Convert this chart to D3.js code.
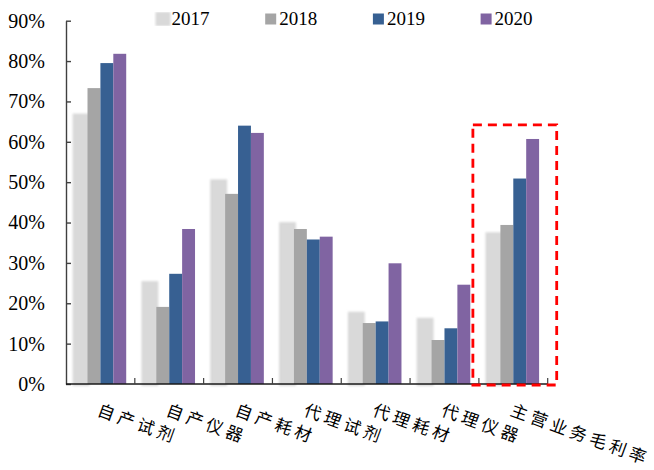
<!DOCTYPE html>
<html>
<head>
<meta charset="utf-8">
<script src="https://cdn.jsdelivr.net/npm/d3@7/dist/d3.min.js"></script>
<style>
  html, body { margin: 0; padding: 0; background: #fff; }
  svg { display: block; }
</style>
</head>
<body>
<svg id="chart" width="654" height="470"></svg>
<script>
// Gross margin by business line, 2017–2020 (%)
const categories = ['自产试剂', '自产仪器', '自产耗材', '代理试剂', '代理耗材', '代理仪器', '主营业务毛利率'];
const years = ['2017', '2018', '2019', '2020'];
const values2017 = [66.5, 25.0, 50.2, 39.6, 17.4, 15.9, 37.1];
const values2018 = [73.3, 19.1, 47.1, 38.4, 15.1, 10.9, 39.4];
const values2019 = [79.5, 27.3, 64.0, 35.8, 15.5, 13.8, 50.9];
const values2020 = [81.8, 38.4, 62.2, 36.5, 29.9, 24.6, 60.7];
const yTicks = [0, 10, 20, 30, 40, 50, 60, 70, 80, 90];
const highlighted = '主营业务毛利率';

const seriesValues = { '2017': values2017, '2018': values2018, '2019': values2019, '2020': values2020 };
const colors = { '2017': '#D9D9D9', '2018': '#A5A5A5', '2019': '#376092', '2020': '#8064A2' };

const svg = d3.select('#chart');
const plot = { left: 66, right: 547.7, top: 20.7, bottom: 384 };

// Soft glow used by the lightest series
const defs = svg.append('defs');
const glow = defs.append('filter').attr('id', 'glow')
  .attr('x', '-30%').attr('y', '-10%').attr('width', '160%').attr('height', '120%');
glow.append('feMorphology').attr('in', 'SourceGraphic').attr('operator', 'dilate').attr('radius', 1.6).attr('result', 'thick');
glow.append('feGaussianBlur').attr('in', 'thick').attr('stdDeviation', 0.9).attr('result', 'soft');
const merge = glow.append('feMerge');
merge.append('feMergeNode').attr('in', 'soft');
merge.append('feMergeNode').attr('in', 'SourceGraphic');

const x = d3.scaleBand().domain(categories).range([plot.left, plot.right])
  .paddingInner(0.25).paddingOuter(0.125);
const xSeries = d3.scaleBand().domain(years).range([0, x.bandwidth()]);
const y = d3.scaleLinear().domain([0, 90]).range([plot.bottom, plot.top]);

// Bars
years.forEach(yr => {
  svg.append('g')
    .attr('filter', yr === '2017' ? 'url(#glow)' : null)
    .selectAll('rect')
    .data(categories.map((c, i) => ({ c, v: seriesValues[yr][i] })))
    .join('rect')
    .attr('x', d => x(d.c) + xSeries(yr))
    .attr('y', d => y(d.v))
    .attr('width', xSeries.bandwidth())
    .attr('height', d => y(0) - y(d.v))
    .attr('fill', colors[yr]);
});

// Y axis
const yAxis = d3.axisLeft(y).tickValues(yTicks).tickFormat(d => d + '%')
  .tickSizeInner(-5).tickSizeOuter(0).tickPadding(21);
const gy = svg.append('g').attr('transform', `translate(${plot.left},0)`).call(yAxis);
gy.select('.domain').attr('stroke', '#404040').attr('stroke-width', 1.4);
gy.selectAll('.tick line').attr('stroke', '#404040').attr('stroke-width', 1.4);
gy.selectAll('.tick text')
  .attr('font-family', '"Liberation Serif", "Times New Roman", serif')
  .attr('font-size', 20).attr('fill', '#000');

// X axis line with category separators pointing up
svg.append('line')
  .attr('x1', plot.left).attr('x2', plot.right)
  .attr('y1', y(0)).attr('y2', y(0))
  .attr('stroke', '#1a1a1a').attr('stroke-width', 1.4);
const step = x.step();
const boundaries = categories.map(c => x(c) - x.paddingOuter() * step).concat([plot.right]);
svg.append('g').selectAll('line').data(boundaries.slice(1)).join('line')
  .attr('x1', d => d).attr('x2', d => d)
  .attr('y1', y(0)).attr('y2', y(0) - 6)
  .attr('stroke', '#404040').attr('stroke-width', 1.2);

// Rotated category labels
svg.append('g').selectAll('text').data(categories).join('text')
  .attr('transform', c => `translate(${x(c) - x.paddingOuter() * step + step / 2 + 1},401) rotate(20)`)
  .attr('dy', '0.88em')
  .attr('font-family', '"Noto Sans CJK SC", sans-serif')
  .attr('font-size', 17)
  .attr('letter-spacing', 4)
  .attr('fill', '#000')
  .text(c => c);

// Dashed highlight around the overall margin group
const hx0 = x(highlighted) - x.paddingOuter() * step;
svg.append('rect')
  .attr('x', hx0 - 6).attr('y', y(64.2))
  .attr('width', step + 15).attr('height', y(0) - y(64.2) + 1)
  .attr('fill', 'none')
  .attr('stroke', '#FF0000').attr('stroke-width', 2.8)
  .attr('stroke-dasharray', '9,6');

// Legend
const legend = svg.append('g').selectAll('g').data(years).join('g')
  .attr('transform', (d, i) => `translate(${157.5 + i * 107.7},13.5)`);
legend.append('rect')
  .attr('width', 11).attr('height', 11)
  .attr('fill', d => colors[d])
  .attr('filter', d => d === '2017' ? 'url(#glow)' : null);
legend.append('text')
  .attr('x', 14).attr('y', 11.5)
  .attr('font-family', '"Liberation Serif", "Times New Roman", serif')
  .attr('font-size', 19).attr('fill', '#000')
  .text(d => d);
</script>
</body>
</html>
